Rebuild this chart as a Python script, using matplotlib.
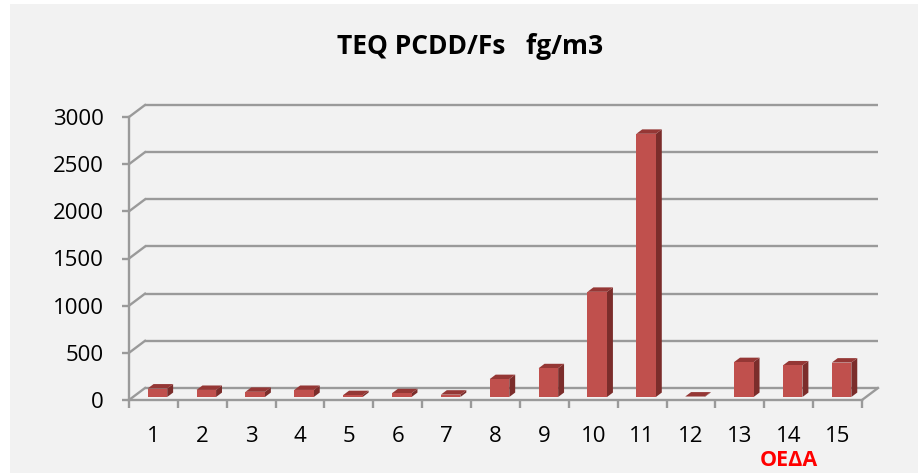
#!/usr/bin/env python3
"""
TEQ PCDD/Fs bar chart drawn with a fake 3D (oblique) look, like the Excel original.
"""

import matplotlib
matplotlib.use("Agg")
import matplotlib.pyplot as plt
from matplotlib.patches import Polygon, Rectangle

# data
categories = [str(i) for i in range(1, 16)]
values = [90, 75, 55, 75, 20, 40, 25, 190, 305, 1115, 2790, 5, 370, 335, 365]
y_ticks = [0, 500, 1000, 1500, 2000, 2500, 3000]
title = "TEQ PCDD/Fs   fg/m3"
note = "ΟΕΔΑ"
note_at = 14

# look
W, H, DPI = 918, 473, 100
FONT = ["Open Sans", "DejaVu Sans"]
GRID = "#9a9a9a"
FRONT = "#c0504d"
TOP = "#953735"
SIDE = "#7b2d2b"

# plot area in pixels (front plane)
x0_px, x1_px = 129, 862
y0_px, y1_px = 400, 117  # value 0 and value 3000, from the top
n = len(categories)
px_per_cat = (x1_px - x0_px) / n
px_per_val = (y0_px - y1_px) / y_ticks[-1]

# depth of the floor, converted to data units
DX = 16 / px_per_cat
DY = 12 / px_per_val
# bar depth range (fraction of floor depth) and width
D_FRONT, D_BACK = 0.25, 0.62
BAR_W = 0.40

fig = plt.figure(figsize=(W / DPI, H / DPI), dpi=DPI, facecolor="white")
fig.patches.append(Rectangle((10 / W, 0), 1, (H - 4) / H, transform=fig.transFigure,
                             facecolor="#f2f2f2", edgecolor="none", zorder=-10))

ax = fig.add_axes([x0_px / W, (H - y0_px) / H,
                   (x1_px - x0_px) / W, (y0_px - y1_px) / H])
ax.set_xlim(0.5, n + 0.5)
ax.set_ylim(0, y_ticks[-1])
ax.patch.set_visible(False)
for s in ["top", "right"]:
    ax.spines[s].set_visible(False)
for s in ["left", "bottom"]:
    ax.spines[s].set_color(GRID)
    ax.spines[s].set_linewidth(1.7)

# back wall grid lines and the diagonals to the front axis
for v in y_ticks:
    ax.plot([0.5 + DX, n + 0.5 + DX], [v + DY, v + DY], color=GRID, lw=1.7,
            clip_on=False, zorder=1, solid_capstyle="butt")
    ax.plot([0.5, 0.5 + DX], [v, v + DY], color=GRID, lw=1.7, clip_on=False, zorder=1)
# right edge of the floor
ax.plot([n + 0.5, n + 0.5 + DX], [0, DY], color=GRID, lw=1.7, clip_on=False, zorder=1)

# bars
for i, v in enumerate(values):
    c = i + 1
    fx = c - BAR_W / 2 + D_FRONT * DX
    fy = D_FRONT * DY
    ddx = (D_BACK - D_FRONT) * DX
    ddy = (D_BACK - D_FRONT) * DY
    front = [(fx, fy), (fx + BAR_W, fy), (fx + BAR_W, fy + v), (fx, fy + v)]
    side = [(fx + BAR_W, fy), (fx + BAR_W + ddx, fy + ddy),
            (fx + BAR_W + ddx, fy + ddy + v), (fx + BAR_W, fy + v)]
    top = [(fx, fy + v), (fx + BAR_W, fy + v),
           (fx + BAR_W + ddx, fy + v + ddy), (fx + ddx, fy + v + ddy)]
    for pts, col in [(side, SIDE), (top, TOP), (front, FRONT)]:
        ax.add_patch(Polygon(pts, closed=True, facecolor=col, edgecolor="none",
                             clip_on=False, zorder=3))

# y axis
ax.set_yticks(y_ticks)
ax.set_yticklabels([str(v) for v in y_ticks], fontsize=16, family=FONT)
ax.tick_params(axis="y", direction="out", length=5, width=1.7, color=GRID, pad=13)

# x axis: tick marks at boundaries, labels at the centres
ax.set_xticks([i + 0.5 for i in range(n + 1)])
ax.set_xticklabels([])
ax.tick_params(axis="x", which="major", direction="out", length=5.5, width=1.7, color=GRID)
ax.set_xticks(range(1, n + 1), minor=True)
ax.set_xticklabels(categories, minor=True, fontsize=16, family=FONT)
ax.tick_params(axis="x", which="minor", length=0, pad=19)

fig.text(470 / W, 1 - 46 / H, title, ha="center", va="center", fontsize=19,
         fontweight="bold", family=FONT)
ax.text(note_at, -0.215, note, transform=ax.get_xaxis_transform(), ha="center",
        va="center", fontsize=15.5, fontweight="bold", color="#ff0000", family=FONT)

fig.savefig("out.png", dpi=DPI, facecolor=fig.get_facecolor())
